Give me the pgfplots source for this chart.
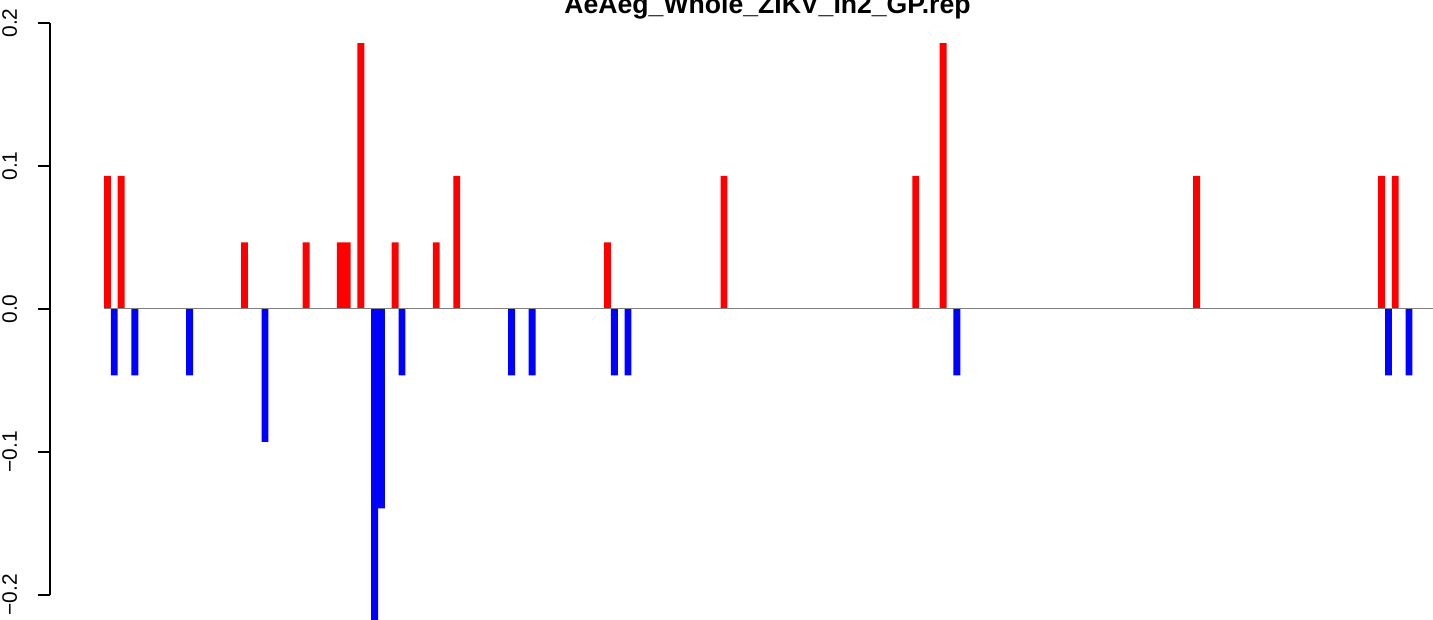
\documentclass[border=0pt]{standalone}
\usepackage{fontspec}
\setmainfont{Liberation Sans}
\usepackage{pgfplots}
\pgfplotsset{compat=1.18}
\begin{document}
\begin{tikzpicture}[x=1pt,y=1pt]
\useasboundingbox (0,0) rectangle (716.5,310);
\begin{axis}[
  at={(25pt,0pt)}, anchor=south west,
  scale only axis, width=691.5pt, height=310pt,
  xmin=-7.883, xmax=194.01,
  ymin=-0.21748, ymax=0.21608,
  clip=false,
  axis line style={draw=none},
  xtick=\empty,
  ytick={-0.2,-0.1,0,0.1,0.2},
  yticklabels={−0.2,−0.1,0.0,0.1,0.2},
  tick align=outside,
  major tick length=6.2pt,
  tick style={black, line width=0.8pt},
  yticklabel shift=10pt,
  yticklabel style={rotate=90, anchor=south, inner sep=0pt, font=\fontsize{10.45}{12}\selectfont},
  ybar, bar width=1, bar shift=0pt,
]
\addplot[draw=none, fill={rgb,255:red,255;green,0;blue,0}] coordinates {
 (0.5,0.0930) (2.5,0.0930) (20.5,0.0465) (29.5,0.0465) (34.5,0.0465) (35.5,0.0465)
 (37.5,0.1860) (42.5,0.0465) (48.5,0.0465) (51.5,0.0930) (73.5,0.0465) (90.5,0.0930)
 (118.5,0.0930) (122.5,0.1860) (159.5,0.0930) (186.5,0.0930) (188.5,0.0930)
};
\addplot[draw=none, fill={rgb,255:red,0;green,0;blue,255}] coordinates {
 (1.5,-0.0465) (4.5,-0.0465) (12.5,-0.0465) (23.5,-0.0930) (39.5,-0.2326) (40.5,-0.1395)
 (43.5,-0.0465) (59.5,-0.0465) (62.5,-0.0465) (74.5,-0.0465) (76.5,-0.0465)
 (124.5,-0.0465) (187.5,-0.0465) (190.5,-0.0465)
};
\draw[gray, line width=0.5pt] (axis cs:0,0) -- (axis cs:194.01,0);
\draw[black, line width=0.8pt] (axis cs:-7.883,-0.2) -- (axis cs:-7.883,0.2);
\node[anchor=base, inner sep=0pt, font=\fontsize{13.3}{15}\selectfont\bfseries] at (rel axis cs:0.5188,0.9774) {AeAeg\_Whole\_ZIKV\_In2\_GP.rep};
\end{axis}
\end{tikzpicture}
\end{document}
